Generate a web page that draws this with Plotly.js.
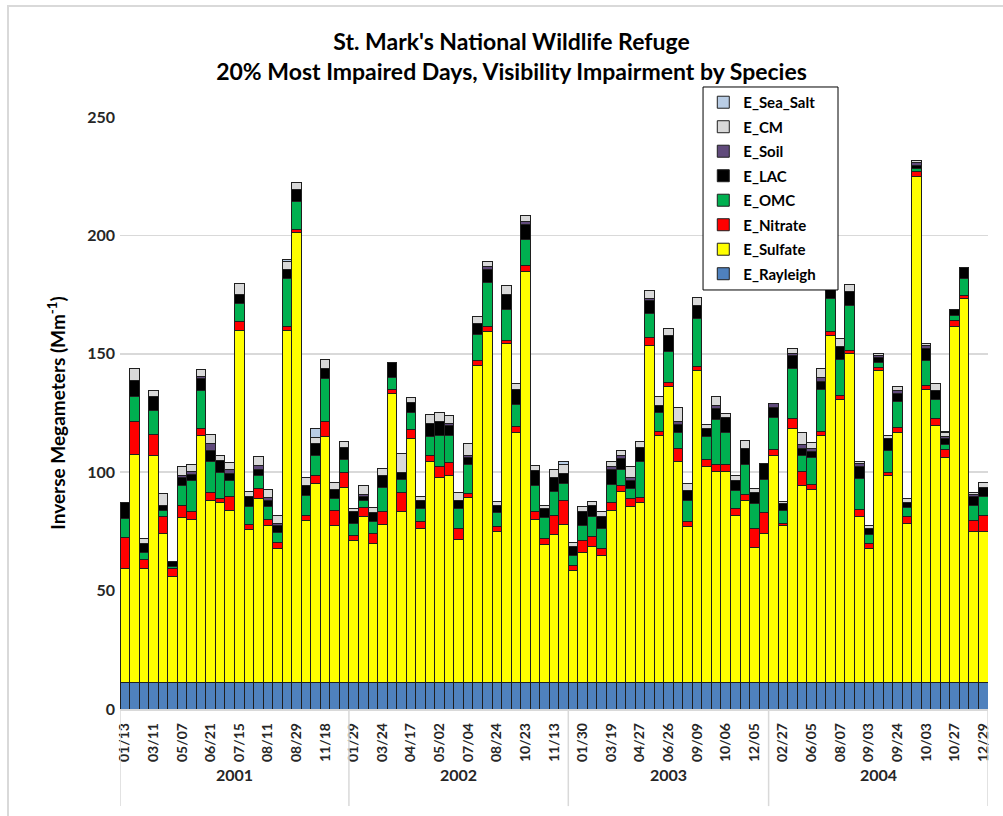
<!DOCTYPE html>
<html>
<head>
<meta charset="utf-8">
<script src="https://cdn.plot.ly/plotly-3.0.1.min.js"></script>
<style>
  html, body { margin: 0; padding: 0; background: #fff; }
  #wrap { position: relative; width: 1003px; height: 816px; }
  #chart { width: 1003px; height: 816px; }
  #frame { position: absolute; left: 7px; top: 5px; width: 1010px; height: 830px; border: 2px solid #d9d9d9; pointer-events: none; box-sizing: border-box; }
</style>
</head>
<body>
<div id="wrap"><div id="chart"></div><div id="frame"></div></div>
<script>
// ---- data (Mm-1), one value per sampled day, in chart order ----
const years = ["2001", "2002", "2003", "2004"];
const daysPerYear = [24, 23, 21, 23];

// labels shown on the axis (every third sample day)
const tickLabels = [
  "01/13","03/11","05/07","06/21","07/15","08/11","08/29","11/18",
  "01/29","03/24","04/17","05/02","07/04","08/24","10/23","11/13",
  "01/30","03/19","04/27","06/26","09/09","10/06","12/05",
  "02/27","06/05","08/07","09/03","09/24","10/03","10/27","12/29"
];

const E_Rayleigh = [
  11,11,11,11,11,11,11,11,11,11, 11,11,11,11,11,11,11,11,11,11,
  11,11,11,11,11,11,11,11,11,11, 11,11,11,11,11,11,11,11,11,11,
  11,11,11,11,11,11,11,11,11,11, 11,11,11,11,11,11,11,11,11,11,
  11,11,11,11,11,11,11,11,11,11, 11,11,11,11,11,11,11,11,11,11,
  11,11,11,11,11,11,11,11,11,11, 11
];
const E_Sulfate = [
  48.5,96.6,48.5,96.1,63.1,45.1,69.9,69.1,104.7,77.2,
  76.1,72.8,148.7,64.7,77.7,66.3,56.6,148.9,190.1,68.6,
  84.1,104.2,66.3,82.5,60.2,70.2,58.9,67.0,122.2,72.3,
  103.2,65.4,93.4,86.9,87.4,60.5,78.3,134.1,148.4,63.8,
  143.2,105.8,173.8,69.1,58.6,62.6,67.0,47.3,55.3,57.8,
  53.7,72.8,80.9,74.4,76.1,142.7,104.7,125.2,93.4,65.9,
  131.9,91.4,89.3,89.3,70.7,77.2,57.3,63.1,96.1,66.3,
  107.4,83.2,81.6,104.7,146.8,119.7,139.2,70.2,56.6,131.9,
  87.4,105.8,67.5,213.9,124.1,108.7,95.0,150.5,162.5,63.8,
  63.8
];
const E_Nitrate = [
  12.8,13.8,3.6,8.8,7.1,3.4,5.2,3.2,2.7,3.2,
  1.6,6.0,4.1,2.3,4.3,2.8,2.8,1.6,1.5,2.1,
  3.6,6.2,6.5,6.5,1.9,3.8,4.2,5.3,1.9,8.1,
  3.9,2.6,2.7,4.4,5.5,4.9,1.6,2.1,2.1,2.1,
  1.6,2.6,2.6,3.2,2.4,8.1,10.2,2.4,4.9,4.0,
  2.9,3.3,2.3,3.6,2.4,3.3,1.6,1.8,5.6,2.1,
  1.9,3.1,2.9,2.9,2.8,2.4,7.8,8.7,2.6,1.2,
  4.3,6.1,2.4,1.6,1.6,1.5,1.1,2.9,2.3,1.4,
  1.6,2.1,2.7,2.0,1.6,3.0,3.7,2.7,1.3,4.8,
  6.9
];
const E_OMC = [
  8.3,10.5,3.2,10.0,2.5,0.5,8.1,13.0,16.2,13.0,
  11.3,6.8,7.4,7.4,5.4,5.3,4.0,20.1,11.8,8.6,
  8.4,18.1,5.2,5.5,5.4,3.2,4.9,10.2,4.9,5.4,
  7.3,5.5,8.1,13.4,11.8,8.1,12.3,10.9,18.8,6.1,
  13.0,9.2,10.7,10.9,8.9,10.2,6.9,4.3,6.5,8.6,
  8.5,7.6,6.9,4.0,14.9,10.0,8.1,13.0,6.8,9.2,
  20.2,9.4,19.0,13.6,7.7,12.6,10.5,14.0,13.3,5.3,
  21.3,6.8,11.0,17.8,13.8,15.4,19.1,13.3,3.7,2.1,
  9.2,10.9,3.8,1.3,10.5,8.0,2.0,2.1,7.2,6.5,
  8.1
];
const E_LAC = [
  6.8,6.9,3.6,6.0,2.4,2.3,3.7,2.7,4.9,4.8,
  4.9,2.9,3.9,4.4,2.7,2.8,2.9,4.0,4.9,3.9,
  5.0,4.2,3.6,4.9,4.8,1.6,4.0,5.2,6.3,3.2,
  4.0,3.7,5.4,5.7,4.0,3.4,2.8,4.5,5.3,3.1,
  6.4,6.5,6.4,6.4,3.6,6.0,4.4,3.8,5.6,4.4,
  5.1,6.4,4.7,3.6,6.0,5.3,2.9,6.8,3.3,4.0,
  5.6,3.5,4.7,6.2,4.1,6.8,4.8,6.8,4.5,2.8,
  5.2,2.9,2.7,3.2,5.0,5.3,6.0,4.9,2.5,2.1,
  4.9,3.4,2.4,1.2,4.9,3.9,2.4,2.3,4.4,3.7,
  3.7
];
const E_Soil = [
  0,0,0,0,0,0,0.8,1.3,1.0,2.9,
  0,1.6,0,0,1.7,1.1,1.2,0,0,0,
  0,0,0,0,0,0.8,0,0,0,0,
  0,0,0,0,0.9,0,1.1,0,1.3,0,
  0,0,1.3,0,0,0,0,0,0,0,
  0,1.2,1.3,1.0,0,1.0,0,0,1.3,0,
  0,0,1.3,0,0,0,0,0,1.6,0,
  1.0,1.7,1.3,1.5,0,0,0,1.3,0,0.9,
  0,1.1,0,1.2,1.3,0,1.1,0,0,0.8,
  0
];
const E_CM = [
  0,5.2,2.1,2.4,5.0,0,3.7,2.9,3.0,3.9,
  2.2,2.9,4.8,2.1,4.0,3.3,3.2,3.4,3.2,3.7,
  2.5,4.0,3.2,2.4,1.2,3.6,2.0,2.9,0,8.1,
  2.2,1.6,3.7,4.0,3.2,3.5,4.9,3.3,2.1,1.6,
  3.6,2.4,2.5,2.2,1.6,3.2,3.7,1.6,2.1,1.9,
  2.1,2.4,2.1,4.7,2.4,3.4,3.6,2.7,6.1,2.9,
  3.3,1.7,3.7,1.9,2.1,3.3,1.6,0,0,1.1,
  2.2,5.1,2.5,4.2,0,3.7,2.9,1.1,1.2,0.8,
  1.6,1.9,1.6,1.1,1.1,2.9,1.6,0,0,0.8,
  2.0
];
const E_Sea_Salt = [
  0,0,0,0,0,0,0,0,0,0,
  0,0,0,0,0,0,0,0.8,0,0,
  4.0,0,0,0,0,0,0,0,0,0,
  0,0,0,0,0,0,0,0,0,0,
  0,0,0,0,0,0,1.5,0,0,0,
  0,0,0,0,0,0,0,0,0,0,
  0,0,0,0,0,0,0,0,0,0,
  0,0,0,0,0,0,0,0,0,0,
  0,0,0,0,0,0,0.5,0,0,0,
  0
];

// ---- chart ----
const FONT = "Lato, 'Open Sans', sans-serif";
const idx = E_Sulfate.map((_, i) => i);
const tickVals = tickLabels.map((_, i) => i * 3);

const series = [
  ["E_Rayleigh", E_Rayleigh, "#4F81BD"],
  ["E_Sulfate", E_Sulfate, "#FFFF00"],
  ["E_Nitrate", E_Nitrate, "#FF0000"],
  ["E_OMC", E_OMC, "#00B050"],
  ["E_LAC", E_LAC, "#000000"],
  ["E_Soil", E_Soil, "#604A7B"],
  ["E_CM", E_CM, "#D9D9D9"],
  ["E_Sea_Salt", E_Sea_Salt, "#B9CDE5"]
];

const traces = series.map(([name, vals, color], i) => ({
  type: "bar",
  name: name,
  legendgroup: name,
  legendrank: series.length - i,
  x: idx,
  y: vals,
  marker: { color: color, line: { color: "#1f1f1f", width: 1 } },
  hoverinfo: "name+y"
}));

// year group boundaries and centers
const shapes = [];
const annotations = [];
let start = 0;
shapes.push({ type: "line", xref: "x", yref: "paper", x0: -0.5, x1: -0.5, y0: 0, y1: -0.164,
  line: { color: "#d9d9d9", width: 1.5 } });
years.forEach((yr, k) => {
  const end = start + daysPerYear[k];
  shapes.push({ type: "line", xref: "x", yref: "paper", x0: end - 0.5, x1: end - 0.5, y0: 0, y1: -0.164,
    line: { color: "#d9d9d9", width: 1.5 } });
  annotations.push({ xref: "x", yref: "paper", x: (start + end - 1) / 2, y: -0.11,
    text: yr, showarrow: false, yanchor: "middle",
    font: { family: FONT, size: 16, color: "#262626", weight: "bold" } });
  start = end;
});

// legend frame (white box over the plot, like the reference)
shapes.push({ type: "rect", xref: "paper", yref: "paper", x0: 0.6717, x1: 0.8272, y0: 0.7078, y1: 1.0507,
  layer: "above", fillcolor: "#ffffff", line: { color: "#000000", width: 1 } });

const layout = {
  width: 1003,
  height: 816,
  margin: { l: 120, r: 15, t: 117, b: 107 },
  paper_bgcolor: "#ffffff",
  plot_bgcolor: "#ffffff",
  barmode: "stack",
  bargap: 0,
  font: { family: FONT, color: "#262626" },
  title: {
    text: "St. Mark's National Wildlife Refuge<br>20% Most Impaired Days, Visibility Impairment by Species",
    font: { family: FONT, size: 23, color: "#000000", weight: "bold" },
    x: 0.51, xref: "container", xanchor: "center",
    y: 0.939, yref: "container", yanchor: "top"
  },
  xaxis: {
    range: [-0.5, 90.5],
    tickmode: "array",
    tickvals: tickVals,
    ticktext: tickLabels,
    tickangle: -90,
    tickfont: { family: FONT, size: 14, color: "#262626", weight: "bold" },
    ticklabelstandoff: 7,
    showgrid: false,
    zeroline: false,
    showline: true,
    linecolor: "#d9d9d9",
    linewidth: 1.5,
    ticks: "",
    automargin: false
  },
  yaxis: {
    range: [0, 250],
    dtick: 50,
    showgrid: true,
    gridcolor: "#d9d9d9",
    gridwidth: 1.5,
    zeroline: false,
    showline: false,
    ticks: "",
    tickfont: { family: FONT, size: 16, color: "#262626", weight: "bold" },
    ticklabelstandoff: 4,
    automargin: false,
    title: {
      text: "Inverse Megameters (Mm<sup>-1</sup>)",
      font: { family: FONT, size: 19, color: "#000000", weight: "bold" },
      standoff: 16
    }
  },
  legend: {
    x: 0.672, xanchor: "left",
    y: 1.0524, yanchor: "top",
    traceorder: "grouped",
    tracegroupgap: 2,
    bgcolor: "rgba(0,0,0,0)",
    borderwidth: 0,
    font: { family: FONT, size: 15, color: "#000000", weight: "bold" },
    itemwidth: 30
  },
  shapes: shapes,
  annotations: annotations,
  showlegend: true
};

Plotly.newPlot("chart", traces, layout, { displayModeBar: false, staticPlot: true });
</script>
</body>
</html>
